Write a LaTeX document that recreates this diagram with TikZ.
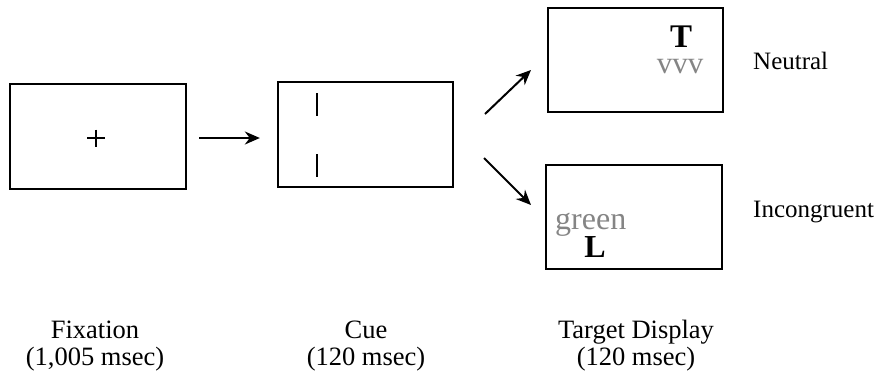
\documentclass[tikz,border=0pt]{standalone}
\usepackage{fontspec}
\setmainfont{Liberation Serif}
\usetikzlibrary{arrows.meta}
\definecolor{stimgray}{gray}{0.52}
\begin{document}
\begin{tikzpicture}[x=1pt,y=-1pt,
  screen/.style={draw, line width=2.3pt, minimum width=176pt, minimum height=105pt, inner sep=0pt},
  caption/.style={font=\fontsize{26.5}{27}\selectfont, align=center, anchor=base, inner sep=0pt},
  side/.style={font=\fontsize{25}{27}\selectfont, anchor=base west, inner sep=0pt},
  stim/.style={anchor=base, inner sep=0pt},
  flow/.style={line width=2pt, -{Stealth[length=15pt,width=13pt]}},
  cuebar/.style={line width=2.2pt}]
\useasboundingbox (0,0) rectangle (876,373);

% the four screens
\node[screen] (fix) at (98,136.5) {};
\node[screen, minimum width=175pt] (cue) at (365.5,134.5) {};
\node[screen, minimum width=175pt, minimum height=104pt] (neu) at (635.5,60) {};
\node[screen, minimum height=104pt] (inc) at (634,217) {};

% fixation cross
\draw[line width=1.5pt] (87,138) -- (105,138) (96,129.5) -- (96,146.5);

% cue bars
\draw[cuebar] (317,93) -- (317,116);
\draw[cuebar] (317,154) -- (317,177);

% neutral target
\node[stim, font=\fontsize{33}{33}\selectfont\bfseries] (tT) at (681,47) {T};
\node[stim, text=stimgray, font=\fontsize{31}{31}\selectfont] (tv) at (680,73) {vvv};

% incongruent target
\node[stim, anchor=base west, text=stimgray, font=\fontsize{32}{32}\selectfont] (tg) at (555,229) {green};
\node[stim, font=\fontsize{32}{32}\selectfont\bfseries] (tL) at (595,257) {L};

% arrows between screens
\draw[flow, shorten <=12pt, shorten >=17pt] (fix.east |- 0,138) -- (cue.west |- 0,138);
\coordinate (upS) at (485,114);
\coordinate (upE) at (531,70);
\coordinate (dnS) at (484,158);
\coordinate (dnE) at (531,205);
\draw[flow] (upS) -- (upE);
\draw[flow] (dnS) -- (dnE);

% condition labels
\node[side] (ln) at (753,69) {Neutral};
\node[side] (li) at (753,217) {Incongruent};

% phase captions (base anchor sits on the last line)
\node[caption] (cf) at (95,365) {Fixation\\(1,005 msec)};
\node[caption] (cc) at (366,365) {Cue\\(120 msec)};
\node[caption] (ct) at (636,365) {Target Display\\(120 msec)};
\end{tikzpicture}
\end{document}
